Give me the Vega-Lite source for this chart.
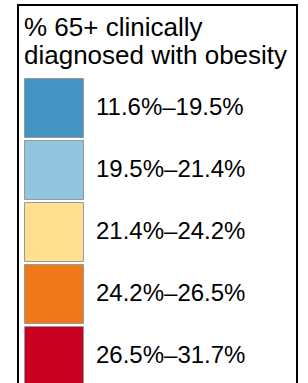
{
  "$schema": "https://vega.github.io/schema/vega-lite/v6.json",
  "width": 279,
  "height": 383,
  "autosize": "none",
  "padding": {"left": 18, "top": 5, "right": 11, "bottom": 0},
  "background": "white",
  "config": {"view": {"stroke": null}},
  "data": {"values": [
    {"range": "11.6%–19.5%"},
    {"range": "19.5%–21.4%"},
    {"range": "21.4%–24.2%"},
    {"range": "24.2%–26.5%"},
    {"range": "26.5%–31.7%"}
  ]},
  "layer": [
    {
      "mark": {"type": "rect", "filled": false, "fill": "transparent", "stroke": "black", "strokeWidth": 2},
      "encoding": {}
    },
    {
      "mark": {"type": "square", "opacity": 0},
      "encoding": {
        "color": {
          "field": "range",
          "type": "ordinal",
          "scale": {
            "domain": ["11.6%–19.5%", "19.5%–21.4%", "21.4%–24.2%", "24.2%–26.5%", "26.5%–31.7%"],
            "range": ["#4393c3", "#92c5de", "#fee090", "#ef7818", "#ca0020"]
          },
          "legend": {
            "orient": "none",
            "legendX": 0,
            "legendY": 0,
            "title": ["% 65+ clinically", "diagnosed with obesity"],
            "titleFont": "Liberation Sans",
            "titleFontSize": 26,
            "titleFontWeight": "normal",
            "titleColor": "black",
            "titleLineHeight": 28,
            "titlePadding": 13,
            "titleLimit": 400,
            "labelFont": "Liberation Sans",
            "labelFontSize": 24,
            "labelColor": "black",
            "labelOffset": 12,
            "labelLimit": 400,
            "symbolType": "square",
            "symbolSize": 3481,
            "symbolOpacity": 1,
            "symbolStrokeColor": "#999999",
            "symbolStrokeWidth": 1,
            "rowPadding": -5.8,
            "padding": 6,
            "encode": {
              "title": {"update": {"dy": {"value": 4}}},
              "symbols": {"update": {"stroke": {"value": "#999999"}, "strokeWidth": {"value": 1}, "opacity": {"value": 1}, "fillOpacity": {"value": 1}}}
            }
          }
        }
      }
    }
  ]
}
